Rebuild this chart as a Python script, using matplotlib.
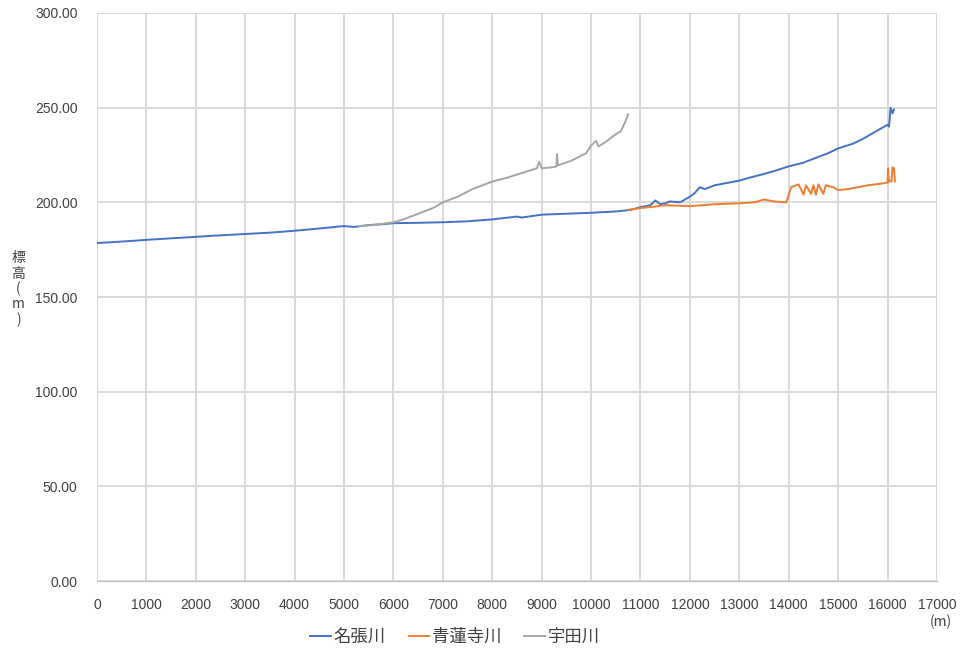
import matplotlib
matplotlib.use("Agg")
import matplotlib.pyplot as plt
from matplotlib.ticker import MultipleLocator, FormatStrFormatter

plt.rcParams['font.family'] = ['Noto Sans CJK JP', 'DejaVu Sans']

# 名張川
nabari_x = [0, 500, 1000, 1500, 2000, 2500, 3000, 3500, 4000, 4500, 5000, 5200, 5500,
            5800, 6000, 6500, 7000, 7500, 8000, 8500, 8600, 9000, 9500, 10000, 10500,
            10800, 11000, 11200, 11300, 11400, 11500, 11600, 11800, 12000, 12100, 12200,
            12300, 12500, 12700, 13000, 13200, 13500, 13700, 14000, 14300, 14500, 14800,
            15000, 15300, 15500, 15800, 16000, 16030, 16060, 16100, 16130]
nabari_y = [178.5, 179.3, 180.2, 181.0, 181.8, 182.6, 183.3, 184.0, 185.0, 186.2, 187.5,
            187.0, 188.0, 188.5, 189.0, 189.2, 189.5, 190.0, 191.0, 192.5, 192.0, 193.5,
            194.0, 194.5, 195.2, 196.0, 197.5, 198.5, 201.0, 199.0, 199.5, 200.5, 200.0,
            203.0, 205.0, 208.0, 207.0, 209.0, 210.0, 211.5, 213.0, 215.0, 216.5, 219.0,
            221.0, 223.0, 226.0, 228.5, 231.0, 233.5, 238.0, 241.0, 240.0, 250.0, 247.0,
            249.0]

# 青蓮寺川
shoren_x = [10750, 11000, 11300, 11500, 12000, 12500, 13000, 13300, 13500, 13700, 13950,
            14050, 14200, 14300, 14350, 14450, 14500, 14550, 14600, 14700, 14750, 14900,
            15000, 15200, 15400, 15600, 15900, 16000, 16010, 16030, 16080, 16100, 16130,
            16150]
shoren_y = [196.0, 197.0, 197.8, 198.5, 198.0, 199.0, 199.5, 200.0, 201.5, 200.5, 200.0,
            208.0, 209.5, 204.0, 209.0, 204.5, 209.0, 204.0, 209.5, 204.5, 209.0, 208.0,
            206.5, 207.0, 208.0, 209.0, 210.0, 210.5, 218.0, 211.0, 211.0, 218.5, 218.0,
            211.0]

# 宇田川
uda_x = [5300, 5600, 6000, 6200, 6500, 6800, 7000, 7300, 7600, 8000, 8300, 8600, 8900,
         8950, 9000, 9200, 9300, 9310, 9330, 9600, 9900, 10000, 10100, 10150, 10300, 10500,
         10600, 10700, 10750]
uda_y = [187.5, 188.0, 189.5, 191.0, 194.0, 197.0, 200.0, 203.0, 207.0, 211.0, 213.0,
         215.5, 218.0, 221.5, 218.0, 218.5, 219.0, 225.5, 219.5, 222.0, 226.0, 230.0,
         232.5, 229.5, 232.0, 236.0, 237.5, 243.0, 246.5]

fig = plt.figure(figsize=(9.6, 6.5), dpi=100)
ax = fig.add_axes([0.101, 0.106, 0.875, 0.874])

ax.plot(nabari_x, nabari_y, color='#4472C4', lw=1.4, label='名張川')
ax.plot(shoren_x, shoren_y, color='#ED7D31', lw=1.4, label='青蓮寺川')
ax.plot(uda_x, uda_y, color='#A5A5A5', lw=1.4, label='宇田川')

ax.set_xlim(0, 17000)
ax.set_ylim(0, 300)
ax.xaxis.set_major_locator(MultipleLocator(1000))
ax.yaxis.set_major_locator(MultipleLocator(50))
ax.yaxis.set_major_formatter(FormatStrFormatter('%.2f'))
ax.grid(True, color='#D9D9D9', lw=1.4)
ax.set_axisbelow(True)
for s in ['top', 'right', 'left']:
    ax.spines[s].set_visible(False)
ax.spines['bottom'].set_color('#BFBFBF')
ax.tick_params(length=0, labelsize=10, colors='#404040')
ax.tick_params(axis='y', pad=14)
ax.tick_params(axis='x', pad=12)
for lab in ax.get_xticklabels() + ax.get_yticklabels():
    lab.set_family(['Liberation Sans', 'DejaVu Sans'])

fig.text(0.019, 0.555, '標\n高\n(\nm\n)', ha='center', va='center', fontsize=10,
         color='#404040', linespacing=1.1)
fig.text(0.98, 0.043, '(m)', ha='center', va='center', fontsize=10, color='#404040')

fig.legend(loc='center', bbox_to_anchor=(0.474, 0.02), ncol=3, frameon=False,
           handlelength=1.2, handletextpad=0.15, columnspacing=1.3, fontsize=12.5,
           labelcolor='#404040')

fig.savefig('out.png', dpi=100)
